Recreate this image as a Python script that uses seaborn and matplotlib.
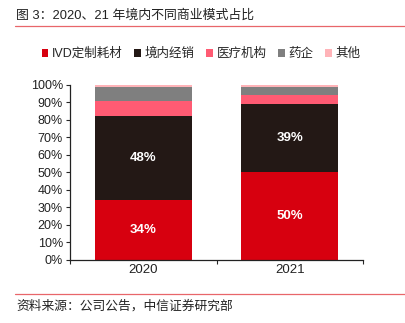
import matplotlib
matplotlib.use("Agg")
import matplotlib.pyplot as plt
from matplotlib.lines import Line2D
from matplotlib.patches import Patch
import seaborn as sns
import pandas as pd
import numpy as np

years = ["2020", "2021"]
series_names = ["IVD定制耗材", "境内经销", "医疗机构", "药企", "其他"]
ivd_custom = [34, 50]
domestic_dist = [48, 39]
hospitals = [8.5, 5]
pharma = [8, 4.5]
others = [1.5, 1.5]
labelled_series = ["IVD定制耗材", "境内经销"]

colors = ["#D7000F", "#231815", "#FF5B73", "#7F7F7F", "#FFB3B8"]

sns.set_style("ticks")
plt.rcParams["font.family"] = ["Liberation Sans", "Noto Sans CJK SC", "DejaVu Sans"]

values = [ivd_custom, domestic_dist, hospitals, pharma, others]
df = pd.DataFrame({"year": years})
for name, vals in zip(series_names, values):
    df[name] = vals

fig = plt.figure(figsize=(4.06, 3.23), dpi=100)
ax = fig.add_axes([70 / 406, 1 - 260 / 323, (363 - 70) / 406, (260 - 84.7) / 323])

# stacked bars: draw cumulative totals from the top segment down
cum = df[series_names].cumsum(axis=1)
for name, col in reversed(list(zip(series_names, colors))):
    sns.barplot(x=df["year"], y=cum[name], color=col, width=0.66,
                saturation=1, ax=ax, edgecolor="none")

# value labels on the two main segments
for i, yr in enumerate(years):
    base = 0
    for name in series_names:
        v = df.loc[i, name]
        if name in labelled_series:
            ax.text(i, base + v / 2, f"{v:.0f}%", ha="center", va="center",
                    color="white", fontsize=9.5, fontweight="bold")
        base += v

ax.set_ylim(0, 100)
ax.set_xlim(-0.5, 1.5)
ax.set_yticks(np.arange(0, 101, 10))
ax.set_yticklabels([f"{t}%" for t in range(0, 101, 10)], fontsize=9, color="#222222")
ax.set_xticks([0, 1])
ax.set_xticklabels(years, fontsize=9.5, color="#222222")
ax.set_xticks([-0.5, 0.5, 1.5], minor=True)
ax.tick_params(axis="x", which="major", length=0, pad=3)
ax.tick_params(axis="x", which="minor", length=3, width=0.8, direction="out")
ax.tick_params(axis="y", length=3, width=0.8, direction="out", pad=2)
ax.set_xlabel("")
ax.set_ylabel("")
for s in ["top", "right"]:
    ax.spines[s].set_visible(False)
for s in ["left", "bottom"]:
    ax.spines[s].set_linewidth(0.9)
    ax.spines[s].set_color("#222222")

handles = [Patch(facecolor=c, edgecolor="none", label=n) for n, c in zip(series_names, colors)]
fig.legend(handles=handles, loc="center", bbox_to_anchor=(201 / 406, 1 - 54 / 323),
           ncol=5, frameon=False, fontsize=9, handlelength=0.55, handleheight=0.55,
           handletextpad=0.3, columnspacing=0.9, borderaxespad=0)

fig.text(16 / 406, 1 - 16 / 323, "图 3：2020、21 年境内不同商业模式占比",
         fontsize=9.3, va="center", ha="left", color="#222222")
fig.add_artist(Line2D([15 / 406, 1.0], [1 - 26 / 323, 1 - 26 / 323],
                      color="#E8666A", linewidth=0.9))
fig.add_artist(Line2D([15 / 406, 1.0], [1 - 294 / 323, 1 - 294 / 323],
                      color="#E8666A", linewidth=0.9))
fig.text(16 / 406, 1 - 306 / 323, "资料来源：公司公告，中信证券研究部",
         fontsize=9.2, va="center", ha="left", color="#222222")

fig.savefig("out.png", dpi=100, facecolor="white")
